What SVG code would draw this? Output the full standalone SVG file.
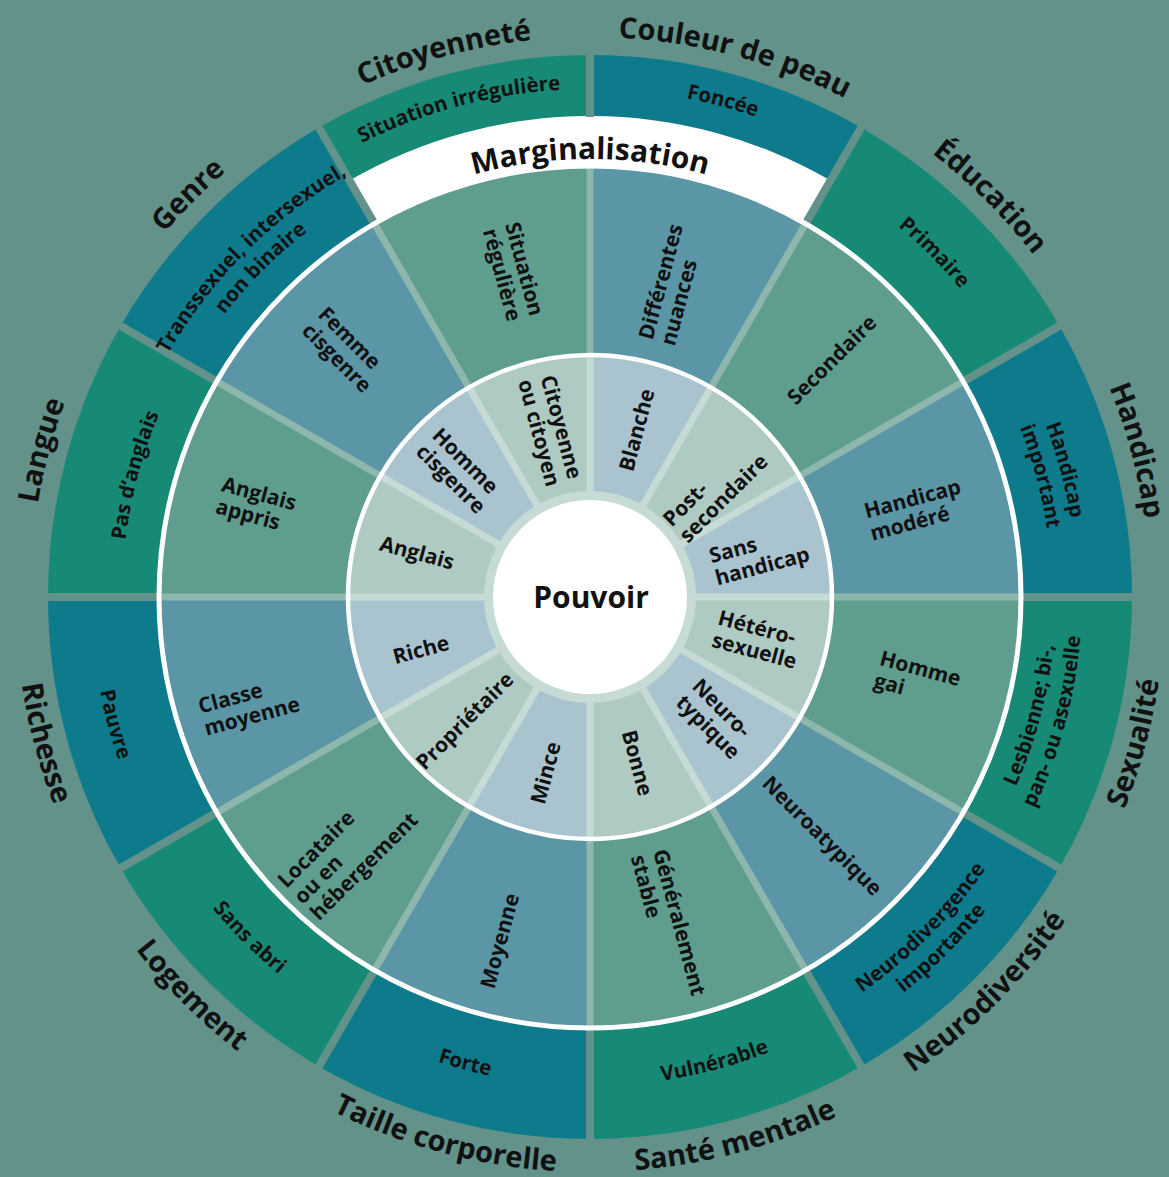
<svg xmlns="http://www.w3.org/2000/svg" xmlns:xlink="http://www.w3.org/1999/xlink" width="1169" height="1177" viewBox="0 0 1169 1177">
<style>
.ob{fill:#0e7b8d}.og{fill:#178a75}
.mb{fill:#5b96a6}.mg{fill:#5f9e8f}
.ib{fill:#a9c4ce}.ig{fill:#aecac2}
.gapo{stroke:#62928a;stroke-width:8}
.gapm{stroke:#8db6ad;stroke-width:7}
.gapi{stroke:#c7dbd6;stroke-width:7}
text{font-family:"Open Sans","Liberation Sans",sans-serif;fill:#111}
.cat{font-size:29px;font-weight:700}
.seg{font-size:20.5px;font-weight:700}
.lab{font-size:21px;font-weight:700}
.big{font-size:30px;font-weight:700}
</style>
<defs>
<path id="c560" d="M590,1157 A560,560 0 1,1 590,37 A560,560 0 1,1 590,1157"/>
<path id="c438" d="M590,1035 A438,438 0 1,1 590,159 A438,438 0 1,1 590,1035"/>
<path id="c508" d="M590,1105 A508,508 0 1,1 590,89 A508,508 0 1,1 590,1105"/>
<path id="c487" d="M590,1084 A487,487 0 1,1 590,110 A487,487 0 1,1 590,1084"/>
<path id="c482" d="M590,1079 A482,482 0 1,1 590,115 A482,482 0 1,1 590,1079"/>
<path id="c462" d="M590,1059 A462,462 0 1,1 590,135 A462,462 0 1,1 590,1059"/>
<path id="c468" d="M590,1065 A468,468 0 1,1 590,129 A468,468 0 1,1 590,1065"/>
<path id="a575" d="M590,22 A575,575 0 1,0 590,1172 A575,575 0 1,0 590,22"/>
<path id="a466" d="M590,131 A466,466 0 1,0 590,1063 A466,466 0 1,0 590,131"/>
<path id="a492" d="M590,105 A492,492 0 1,0 590,1089 A492,492 0 1,0 590,105"/>
<path id="a480" d="M590,117 A480,480 0 1,0 590,1077 A480,480 0 1,0 590,117"/>
<path id="a505" d="M590,92 A505,505 0 1,0 590,1102 A505,505 0 1,0 590,92"/>
<path id="a489" d="M590,108 A489,489 0 1,0 590,1086 A489,489 0 1,0 590,108"/>
<path id="a499" d="M590,98 A499,499 0 1,0 590,1096 A499,499 0 1,0 590,98"/>
</defs>
<rect width="1169" height="1177" fill="#62928a"/>

<g id="sectors">
<g id="couleur-de-peau">
<path class="ob" d="M590,55 A542,542 0 0,1 861,127.6 L830.5,180.5 A481,481 0 0,0 590,116 Z"/>
<path class="mb" d="M590,165 A432,432 0 0,1 806,222.9 L711,387.4 A242,242 0 0,0 590,355 Z"/>
<path class="ib" d="M590,355 A242,242 0 0,1 711,387.4 L640,510.4 A100,100 0 0,0 590,497 Z"/>
</g>
<g id="education">
<path class="og" d="M861,127.6 A542,542 0 0,1 1059.4,326 L964.1,381 A432,432 0 0,0 806,222.9 Z"/>
<path class="mg" d="M806,222.9 A432,432 0 0,1 964.1,381 L799.6,476 A242,242 0 0,0 711,387.4 Z"/>
<path class="ig" d="M711,387.4 A242,242 0 0,1 799.6,476 L676.6,547 A100,100 0 0,0 640,510.4 Z"/>
</g>
<g id="handicap">
<path class="ob" d="M1059.4,326 A542,542 0 0,1 1132,597 L1022,597 A432,432 0 0,0 964.1,381 Z"/>
<path class="mb" d="M964.1,381 A432,432 0 0,1 1022,597 L832,597 A242,242 0 0,0 799.6,476 Z"/>
<path class="ib" d="M799.6,476 A242,242 0 0,1 832,597 L690,597 A100,100 0 0,0 676.6,547 Z"/>
</g>
<g id="sexualite">
<path class="og" d="M1132,597 A542,542 0 0,1 1059.4,868 L964.1,813 A432,432 0 0,0 1022,597 Z"/>
<path class="mg" d="M1022,597 A432,432 0 0,1 964.1,813 L799.6,718 A242,242 0 0,0 832,597 Z"/>
<path class="ig" d="M832,597 A242,242 0 0,1 799.6,718 L676.6,647 A100,100 0 0,0 690,597 Z"/>
</g>
<g id="neurodiversite">
<path class="ob" d="M1059.4,868 A542,542 0 0,1 861,1066.4 L806,971.1 A432,432 0 0,0 964.1,813 Z"/>
<path class="mb" d="M964.1,813 A432,432 0 0,1 806,971.1 L711,806.6 A242,242 0 0,0 799.6,718 Z"/>
<path class="ib" d="M799.6,718 A242,242 0 0,1 711,806.6 L640,683.6 A100,100 0 0,0 676.6,647 Z"/>
</g>
<g id="sante-mentale">
<path class="og" d="M861,1066.4 A542,542 0 0,1 590,1139 L590,1029 A432,432 0 0,0 806,971.1 Z"/>
<path class="mg" d="M806,971.1 A432,432 0 0,1 590,1029 L590,839 A242,242 0 0,0 711,806.6 Z"/>
<path class="ig" d="M711,806.6 A242,242 0 0,1 590,839 L590,697 A100,100 0 0,0 640,683.6 Z"/>
</g>
<g id="taille-corporelle">
<path class="ob" d="M590,1139 A542,542 0 0,1 319,1066.4 L374,971.1 A432,432 0 0,0 590,1029 Z"/>
<path class="mb" d="M590,1029 A432,432 0 0,1 374,971.1 L469,806.6 A242,242 0 0,0 590,839 Z"/>
<path class="ib" d="M590,839 A242,242 0 0,1 469,806.6 L540,683.6 A100,100 0 0,0 590,697 Z"/>
</g>
<g id="logement">
<path class="og" d="M319,1066.4 A542,542 0 0,1 120.6,868 L215.9,813 A432,432 0 0,0 374,971.1 Z"/>
<path class="mg" d="M374,971.1 A432,432 0 0,1 215.9,813 L380.4,718 A242,242 0 0,0 469,806.6 Z"/>
<path class="ig" d="M469,806.6 A242,242 0 0,1 380.4,718 L503.4,647 A100,100 0 0,0 540,683.6 Z"/>
</g>
<g id="richesse">
<path class="ob" d="M120.6,868 A542,542 0 0,1 48,597 L158,597 A432,432 0 0,0 215.9,813 Z"/>
<path class="mb" d="M215.9,813 A432,432 0 0,1 158,597 L348,597 A242,242 0 0,0 380.4,718 Z"/>
<path class="ib" d="M380.4,718 A242,242 0 0,1 348,597 L490,597 A100,100 0 0,0 503.4,647 Z"/>
</g>
<g id="langue">
<path class="og" d="M48,597 A542,542 0 0,1 120.6,326 L215.9,381 A432,432 0 0,0 158,597 Z"/>
<path class="mg" d="M158,597 A432,432 0 0,1 215.9,381 L380.4,476 A242,242 0 0,0 348,597 Z"/>
<path class="ig" d="M348,597 A242,242 0 0,1 380.4,476 L503.4,547 A100,100 0 0,0 490,597 Z"/>
</g>
<g id="genre">
<path class="ob" d="M120.6,326 A542,542 0 0,1 319,127.6 L374,222.9 A432,432 0 0,0 215.9,381 Z"/>
<path class="mb" d="M215.9,381 A432,432 0 0,1 374,222.9 L469,387.4 A242,242 0 0,0 380.4,476 Z"/>
<path class="ib" d="M380.4,476 A242,242 0 0,1 469,387.4 L540,510.4 A100,100 0 0,0 503.4,547 Z"/>
</g>
<g id="citoyennete">
<path class="og" d="M319,127.6 A542,542 0 0,1 590,55 L590,116 A481,481 0 0,0 349.5,180.5 Z"/>
<path class="mg" d="M374,222.9 A432,432 0 0,1 590,165 L590,355 A242,242 0 0,0 469,387.4 Z"/>
<path class="ig" d="M469,387.4 A242,242 0 0,1 590,355 L590,497 A100,100 0 0,0 540,510.4 Z"/>
</g>
<g id="marginalisation-band">
<path fill="#fff" d="M349.5,180.5 A481,481 0 0,1 830.5,180.5 L806,222.9 A432,432 0 0,0 374,222.9 Z"/>
</g>
</g>

<g id="dividers" fill="none">
<g class="gapo">
<line x1="590" y1="117" x2="590" y2="48"/>
<line x1="806.5" y1="222" x2="863" y2="124.2"/>
<line x1="965" y1="380.5" x2="1062.8" y2="324"/>
<line x1="1023" y1="597" x2="1136" y2="597"/>
<line x1="965" y1="813.5" x2="1062.8" y2="870"/>
<line x1="806.5" y1="972" x2="863" y2="1069.8"/>
<line x1="590" y1="1030" x2="590" y2="1143"/>
<line x1="373.5" y1="972" x2="317" y2="1069.8"/>
<line x1="215" y1="813.5" x2="117.2" y2="870"/>
<line x1="157" y1="597" x2="44" y2="597"/>
<line x1="215" y1="380.5" x2="117.2" y2="324"/>
<line x1="373.5" y1="222" x2="317" y2="124.2"/>
</g>
<g class="gapm">
<line x1="590" y1="357" x2="590" y2="165"/>
<line x1="710" y1="389.2" x2="806" y2="222.9"/>
<line x1="797.8" y1="477" x2="964.1" y2="381"/>
<line x1="830" y1="597" x2="1022" y2="597"/>
<line x1="797.8" y1="717" x2="964.1" y2="813"/>
<line x1="710" y1="804.8" x2="806" y2="971.1"/>
<line x1="590" y1="837" x2="590" y2="1029"/>
<line x1="470" y1="804.8" x2="374" y2="971.1"/>
<line x1="382.2" y1="717" x2="215.9" y2="813"/>
<line x1="350" y1="597" x2="158" y2="597"/>
<line x1="382.2" y1="477" x2="215.9" y2="381"/>
<line x1="470" y1="389.2" x2="374" y2="222.9"/>
</g>
<g class="gapi">
<line x1="590" y1="515" x2="590" y2="355"/>
<line x1="637.5" y1="514.7" x2="711" y2="387.4"/>
<line x1="672.3" y1="549.5" x2="799.6" y2="476"/>
<line x1="685" y1="597" x2="832" y2="597"/>
<line x1="672.3" y1="644.5" x2="799.6" y2="718"/>
<line x1="637.5" y1="679.3" x2="711" y2="806.6"/>
<line x1="590" y1="692" x2="590" y2="839"/>
<line x1="542.5" y1="679.3" x2="469" y2="806.6"/>
<line x1="507.7" y1="644.5" x2="380.4" y2="718"/>
<line x1="495" y1="597" x2="348" y2="597"/>
<line x1="507.7" y1="549.5" x2="380.4" y2="476"/>
<line x1="542.5" y1="514.7" x2="469" y2="387.4"/>
</g>
<circle cx="590" cy="597" r="431" stroke="#fff" stroke-width="5"/>
<circle cx="590" cy="597" r="242" stroke="#fff" stroke-width="4.5"/>
</g>

<g id="pouvoir">
<circle cx="590" cy="597" r="106" fill="#c7dbd6"/>
<circle cx="590" cy="597" r="97" fill="#fff"/>
<text class="big" x="591" y="608" text-anchor="middle">Pouvoir</text>
</g>

<g id="category-labels" text-anchor="middle">
<text class="cat"><textPath href="#c560" startOffset="54.1667%">Couleur de peau</textPath></text>
<text class="cat"><textPath href="#c560" startOffset="62.5%">Éducation</textPath></text>
<text class="cat"><textPath href="#c560" startOffset="70.8333%">Handicap</textPath></text>
<text class="cat"><textPath href="#a575" startOffset="70.8333%">Sexualité</textPath></text>
<text class="cat"><textPath href="#a575" startOffset="62.5%">Neurodiversité</textPath></text>
<text class="cat"><textPath href="#a575" startOffset="54.1667%">Santé mentale</textPath></text>
<text class="cat"><textPath href="#a575" startOffset="45.8333%">Taille corporelle</textPath></text>
<text class="cat"><textPath href="#a575" startOffset="37.5%">Logement</textPath></text>
<text class="cat"><textPath href="#a575" startOffset="29.1667%">Richesse</textPath></text>
<text class="cat"><textPath href="#c560" startOffset="29.1667%">Langue</textPath></text>
<text class="cat"><textPath href="#c560" startOffset="37.5%">Genre</textPath></text>
<text class="cat"><textPath href="#c560" startOffset="45.8333%">Citoyenneté</textPath></text>
<text class="big"><textPath href="#c438" startOffset="50%">Marginalisation</textPath></text>
</g>

<g id="outer-labels" text-anchor="middle">
<text class="seg"><textPath href="#c508" startOffset="54.1667%">Foncée</textPath></text>
<text class="seg"><textPath href="#c508" startOffset="45.8333%">Situation irrégulière</textPath></text>
<text class="seg"><textPath href="#c482" startOffset="62.5%">Primaire</textPath></text>
<text class="seg"><textPath href="#c487" startOffset="70.8333%">Handicap</textPath></text>
<text class="seg"><textPath href="#c462" startOffset="70.8333%">important</textPath></text>
<text class="seg"><textPath href="#a466" startOffset="70.8333%">Lesbienne; bi-,</textPath></text>
<text class="seg"><textPath href="#a492" startOffset="70.8333%">pan- ou asexuelle</textPath></text>
<text class="seg"><textPath href="#a480" startOffset="62.5%">Neurodivergence</textPath></text>
<text class="seg"><textPath href="#a505" startOffset="62.5%">importante</textPath></text>
<text class="seg"><textPath href="#a489" startOffset="54.1667%">Vulnérable</textPath></text>
<text class="seg"><textPath href="#a489" startOffset="45.8333%">Forte</textPath></text>
<text class="seg"><textPath href="#a489" startOffset="37.5%">Sans abri</textPath></text>
<text class="seg"><textPath href="#a499" startOffset="29.1667%">Pauvre</textPath></text>
<text class="seg"><textPath href="#c468" startOffset="29.1667%">Pas d’anglais</textPath></text>
<text class="seg"><textPath href="#c487" startOffset="37.5%">Transsexuel, intersexuel,</textPath></text>
<text class="seg"><textPath href="#c462" startOffset="37.5%">non binaire</textPath></text>
</g>

<g id="middle-labels">
<g transform="translate(513,272) rotate(75)"><text class="lab" text-anchor="middle"><tspan x="0" y="-4.5">Situation</tspan><tspan x="0" y="18.5">régulière</tspan></text></g>
<g transform="translate(672,285) rotate(-75)"><text class="lab"><tspan x="-59" y="-4.5">Différentes</tspan><tspan x="-59" y="18.5">nuances</tspan></text></g>
<g transform="translate(832,360) rotate(-45)"><text class="lab" text-anchor="middle" y="7">Secondaire</text></g>
<g transform="translate(916,510) rotate(-15)"><text class="lab"><tspan x="-50" y="-4.5">Handicap</tspan><tspan x="-50" y="18.5">modéré</tspan></text></g>
<g transform="translate(918,680) rotate(15)"><text class="lab"><tspan x="-42" y="-4.5">Homme</tspan><tspan x="-42" y="18.5">gai</tspan></text></g>
<g transform="translate(822,836) rotate(45)"><text class="lab" text-anchor="middle" y="7">Neuroatypique</text></g>
<g transform="translate(668,925) rotate(75)"><text class="lab"><tspan x="-75" y="-4.5">Généralement</tspan><tspan x="-75" y="18.5">stable</tspan></text></g>
<g transform="translate(500,941) rotate(-75)"><text class="lab" text-anchor="middle" y="7">Moyenne</text></g>
<g transform="translate(348,850) rotate(-45)"><text class="lab"><tspan x="-71" y="-16">Locataire</tspan><tspan x="-71" y="7">ou en</tspan><tspan x="-71" y="30">hébergement</tspan></text></g>
<g transform="translate(250,705) rotate(-15)"><text class="lab"><tspan x="-50" y="-4.5">Classe</tspan><tspan x="-50" y="18.5">moyenne</tspan></text></g>
<g transform="translate(256,505) rotate(15)"><text class="lab"><tspan x="-38" y="-4.5">Anglais</tspan><tspan x="-38" y="18.5">appris</tspan></text></g>
<g transform="translate(345,350) rotate(45)"><text class="lab"><tspan x="-44" y="-4.5">Femme</tspan><tspan x="-44" y="18.5">cisgenre</tspan></text></g>
</g>

<g id="inner-labels">
<g transform="translate(550,430) rotate(75)"><text class="lab" text-anchor="middle"><tspan x="0" y="-4.5">Citoyenne</tspan><tspan x="0" y="18.5">ou citoyen</tspan></text></g>
<g transform="translate(637,430) rotate(-75)"><text class="lab" text-anchor="middle" y="7">Blanche</text></g>
<g transform="translate(716,490) rotate(-45)"><text class="lab"><tspan x="-58" y="-4.5">Post-</tspan><tspan x="-58" y="18.5">secondaire</tspan></text></g>
<g transform="translate(760,555) rotate(-15)"><text class="lab"><tspan x="-49" y="-4.5">Sans</tspan><tspan x="-49" y="18.5">handicap</tspan></text></g>
<g transform="translate(758,640) rotate(15)"><text class="lab"><tspan x="-44" y="-4.5">Hétéro-</tspan><tspan x="-44" y="18.5">sexuelle</tspan></text></g>
<g transform="translate(716,719) rotate(45)"><text class="lab"><tspan x="-40" y="-4.5">Neuro-</tspan><tspan x="-40" y="18.5">typique</tspan></text></g>
<g transform="translate(637,763) rotate(75)"><text class="lab" text-anchor="middle" y="7">Bonne</text></g>
<g transform="translate(546,773) rotate(-75)"><text class="lab" text-anchor="middle" y="7">Mince</text></g>
<g transform="translate(465,721) rotate(-45)"><text class="lab" text-anchor="middle" y="7">Propriétaire</text></g>
<g transform="translate(421,650) rotate(-15)"><text class="lab" text-anchor="middle" y="7">Riche</text></g>
<g transform="translate(417,553) rotate(15)"><text class="lab" text-anchor="middle" y="7">Anglais</text></g>
<g transform="translate(459,471) rotate(45)"><text class="lab"><tspan x="-44" y="-4.5">Homme</tspan><tspan x="-44" y="18.5">cisgenre</tspan></text></g>
</g>
</svg>
